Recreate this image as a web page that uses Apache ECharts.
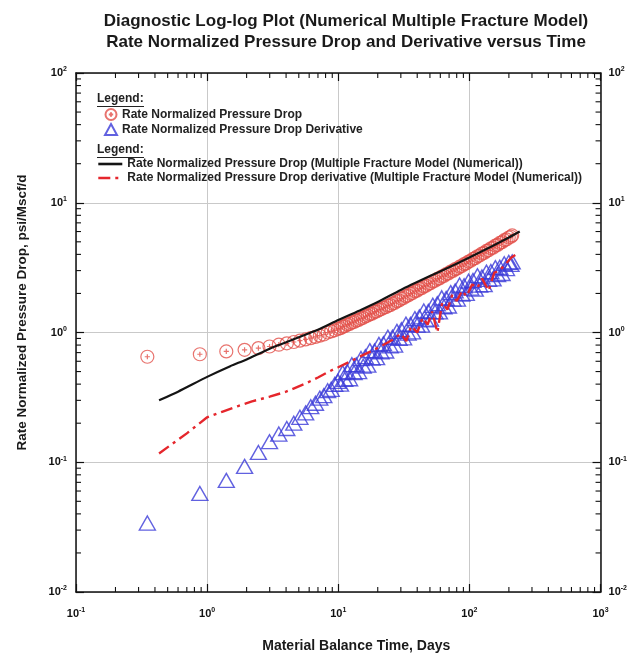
<!DOCTYPE html>
<html>
<head>
<meta charset="utf-8">
<script src="https://cdn.jsdelivr.net/npm/echarts@6/dist/echarts.min.js"></script>
<style>
html,body{margin:0;padding:0;background:#fff;}
#chart{width:630px;height:658px;}
</style>
</head>
<body>
<div id="chart"></div>
<script>
// ---- data ----
const timeDays = [0.35, 0.88, 1.40, 1.93, 2.46, 2.99, 3.52, 4.05, 4.58, 5.1, 5.64, 6.17, 6.7, 7.23, 7.76, 8.3, 8.83, 9.4,
  9.95, 10.4, 10.8, 11.2, 11.7, 12.2, 12.7, 13.2, 13.7, 14.3, 14.9, 15.5, 16.1, 16.8, 17.4, 18.1, 18.9, 19.6, 20.4, 21.2,
  22.1, 23.0, 23.9, 24.9, 25.9, 26.9, 28.0, 29.1, 30.3, 31.5, 32.8, 34.1, 35.5, 36.9, 38.4, 39.9, 41.5, 43.2, 44.9, 46.7,
  48.6, 50.5, 52.6, 54.7, 56.9, 59.1, 61.5, 64.0, 66.5, 69.2, 72.0, 74.9, 77.9, 81.0, 84.2, 87.6, 91.1, 94.7, 98.5, 102.4,
  106.5, 110.8, 115.2, 119.8, 124.6, 129.6, 134.8, 140.2, 145.8, 151.6, 157.7, 164.0, 170.5, 177.4, 184.4, 191.8, 199.5, 207.5, 212.0];
const pressureDrop = [0.650, 0.680, 0.715, 0.735, 0.758, 0.780, 0.805, 0.825, 0.845, 0.865, 0.885, 0.905, 0.925, 0.945, 0.965, 1.00, 1.02, 1.04,
  1.065, 1.080, 1.110, 1.120, 1.150, 1.165, 1.195, 1.205, 1.235, 1.250, 1.282, 1.298, 1.332, 1.350, 1.384, 1.398, 1.440, 1.452, 1.492, 1.508,
  1.550, 1.566, 1.610, 1.626, 1.673, 1.688, 1.745, 1.765, 1.822, 1.845, 1.905, 1.928, 1.990, 2.012, 2.080, 2.102, 2.172, 2.196, 2.268, 2.294,
  2.370, 2.396, 2.476, 2.505, 2.586, 2.614, 2.700, 2.732, 2.820, 2.852, 2.948, 2.982, 3.080, 3.114, 3.216, 3.252, 3.365, 3.405, 3.522, 3.568,
  3.690, 3.738, 3.868, 3.918, 4.054, 4.105, 4.250, 4.302, 4.454, 4.508, 4.672, 4.735, 4.902, 4.966, 5.144, 5.212, 5.398, 5.470, 5.600];
const pressureDropDerivative = [0.034, 0.0575, 0.0725, 0.093, 0.119, 0.144, 0.165, 0.182, 0.200, 0.222, 0.240, 0.268, 0.285, 0.312, 0.326, 0.356, 0.365, 0.398,
  0.42, 0.40, 0.49, 0.435, 0.50, 0.44, 0.565, 0.49, 0.563, 0.50, 0.63, 0.55, 0.65, 0.56, 0.725, 0.635, 0.72, 0.64, 0.81, 0.71,
  0.82, 0.72, 0.92, 0.79, 0.92, 0.80, 1.02, 0.90, 1.05, 0.91, 1.16, 0.99, 1.155, 1.01, 1.28, 1.14, 1.32, 1.14, 1.465, 1.25,
  1.455, 1.27, 1.62, 1.44, 1.665, 1.44, 1.85, 1.58, 1.83, 1.60, 2.03, 1.81, 2.09, 1.81, 2.32, 1.98, 2.29, 2.00, 2.49, 2.20,
  2.52, 2.16, 2.74, 2.32, 2.68, 2.34, 2.92, 2.57, 2.95, 2.59, 3.16, 2.79, 3.18, 2.85, 3.39, 3.11, 3.47, 3.35, 3.50];

const modelTime = [0.43, 0.6, 1.0, 1.5, 2.0, 3.0, 4.0, 5.0, 7.0, 10, 15, 20, 30, 50, 70, 100, 150, 200, 242];
const modelPressureDrop = [0.30, 0.35, 0.455, 0.55, 0.62, 0.75, 0.84, 0.92, 1.05, 1.25, 1.50, 1.72, 2.13, 2.72, 3.18, 3.78, 4.65, 5.40, 6.00];

const modelDerivTime = [0.43, 0.55, 0.7, 0.85, 1.0, 1.3, 1.7, 2.2, 3.0, 4.0, 5.5, 7.0, 8.5, 10, 12, 15, 18, 22, 26, 30, 33, 36, 40, 44, 48, 52, 57, 62, 68, 74, 80, 88, 95, 105, 115, 125, 140, 155, 170, 190, 210, 240];
const modelDerivative = [0.117, 0.14, 0.167, 0.195, 0.222, 0.245, 0.27, 0.295, 0.32, 0.35, 0.40, 0.45, 0.50, 0.54, 0.59, 0.66, 0.72, 0.80, 0.88, 0.98, 0.86, 1.12, 1.0, 1.3, 1.15, 1.45, 1.0, 1.7, 1.5, 1.95, 1.75, 2.1, 1.9, 2.35, 2.2, 2.6, 2.1, 2.9, 3.0, 3.4, 3.8, 4.15];

const xDecades = [0.1, 1, 10, 100];
const yDecades = [0.01, 0.1, 1, 10];
const minorMultipliers = [2, 3, 4, 5, 6, 7, 8, 9];

const xMin = 0.1, xMax = 1000, yMin = 0.01, yMax = 100;

const seriesNames = {
  pd: 'Rate Normalized Pressure Drop',
  pdd: 'Rate Normalized Pressure Drop Derivative',
  mpd: 'Rate Normalized Pressure Drop (Multiple Fracture Model (Numerical))',
  mpdd: 'Rate Normalized Pressure Drop derivative (Multiple Fracture Model (Numerical))'
};

// ---- build ----
const FONT = 'Liberation Sans, Arial, sans-serif';
const zip = (a, b) => a.map((v, i) => [v, b[i]]);
const xMinor = [];
xDecades.forEach(d => minorMultipliers.forEach(m => xMinor.push([d * m, 1])));
const yMinor = [];
yDecades.forEach(d => minorMultipliers.forEach(m => yMinor.push([1, d * m])));

const supLabel = v => '{b|10}{s|' + Math.round(Math.log10(v)) + '}';
const richLabel = {
  b: { fontSize: 11, fontWeight: 'bold', fontFamily: FONT, color: '#111', lineHeight: 14 },
  s: { fontSize: 7, fontWeight: 'bold', fontFamily: FONT, color: '#111', lineHeight: 8, verticalAlign: 'top' }
};
const axisLine = { show: true, lineStyle: { color: '#111', width: 1.5 } };
const axisTick = { show: true, inside: true, length: 8, lineStyle: { color: '#111', width: 1.2 } };

const circlePlus = 'path://M0,-10A10,10,0,1,1,0,10A10,10,0,1,1,0,-10ZM0,-4L0,4M-4,0L4,0';

const chart = echarts.init(document.getElementById('chart'), null, { renderer: 'canvas' });

const option = {
  backgroundColor: '#ffffff',
  animation: false,
  title: {
    text: 'Diagnostic Log-log Plot (Numerical Multiple Fracture Model)\nRate Normalized Pressure Drop and Derivative versus Time',
    left: 341, top: 6, textAlign: 'center',
    textStyle: { fontFamily: FONT, fontSize: 17, fontWeight: 'bold', color: '#1a1a1a', lineHeight: 21 }
  },
  grid: { left: 76, right: 28, top: 73, bottom: 64, containLabel: false },
  legend: [
    {
      data: [seriesNames.pd, seriesNames.pdd],
      orient: 'vertical', left: 104, top: 108, padding: 0,
      itemWidth: 12, itemHeight: 11, itemGap: 2, itemTextGap: 12,
      selectedMode: false,
      textStyle: { fontFamily: FONT, fontSize: 12, fontWeight: 'bold', color: '#222', lineHeight: 12 }
    },
    {
      data: [seriesNames.mpd, seriesNames.mpdd],
      orient: 'vertical', left: 97, top: 158, padding: 0,
      itemWidth: 24, itemHeight: 12, itemGap: 2, itemTextGap: 8,
      selectedMode: false,
      itemStyle: { opacity: 0 },
      lineStyle: { width: 2.6 },
      textStyle: { fontFamily: FONT, fontSize: 12, fontWeight: 'bold', color: '#222', lineHeight: 12 }
    }
  ],
  graphic: [
    { type: 'text', left: 97, top: 93, style: { text: 'Legend:', font: 'bold 12px ' + FONT, fill: '#222' } },
    { type: 'line', shape: { x1: 97, y1: 106.5, x2: 144, y2: 106.5 }, style: { stroke: '#222', lineWidth: 1 } },
    { type: 'text', left: 97, top: 144, style: { text: 'Legend:', font: 'bold 12px ' + FONT, fill: '#222' } },
    { type: 'line', shape: { x1: 97, y1: 157.5, x2: 144, y2: 157.5 }, style: { stroke: '#222', lineWidth: 1 } }
  ],
  xAxis: [
    {
      type: 'log', logBase: 10, min: xMin, max: xMax, splitNumber: 4,
      name: 'Material Balance Time, Days', nameLocation: 'middle', nameGap: 47,
      nameTextStyle: { fontFamily: FONT, fontSize: 14, fontWeight: 'bold', color: '#1a1a1a', padding: [0, 0, 0, 36] },
      axisLine: axisLine, axisTick: axisTick,
      axisLabel: { formatter: supLabel, rich: richLabel, margin: 15, showMinLabel: true, showMaxLabel: true },
      splitLine: { show: true, lineStyle: { color: '#c9c9c9', width: 1 } }
    },
    {
      type: 'log', logBase: 10, min: xMin, max: xMax, splitNumber: 4, position: 'top',
      axisLine: axisLine, axisTick: axisTick, axisLabel: { show: false }, splitLine: { show: false }
    }
  ],
  yAxis: [
    {
      type: 'log', logBase: 10, min: yMin, max: yMax, splitNumber: 4,
      name: 'Rate Normalized Pressure Drop, psi/Mscf/d', nameLocation: 'middle', nameGap: 47,
      nameTextStyle: { fontFamily: FONT, fontSize: 13.5, fontWeight: 'bold', color: '#1a1a1a', padding: [0, 0, 0, 40] },
      axisLine: axisLine, axisTick: axisTick,
      axisLabel: { formatter: supLabel, rich: richLabel, margin: 9, showMinLabel: true, showMaxLabel: true },
      splitLine: { show: true, lineStyle: { color: '#c9c9c9', width: 1 } }
    },
    {
      type: 'log', logBase: 10, min: yMin, max: yMax, splitNumber: 4, position: 'right',
      axisLine: axisLine, axisTick: axisTick,
      axisLabel: { formatter: supLabel, rich: richLabel, margin: 8, showMinLabel: true, showMaxLabel: true },
      splitLine: { show: false }
    }
  ],
  series: [
    {
      name: seriesNames.pd, type: 'scatter', data: zip(timeDays, pressureDrop),
      symbol: circlePlus, symbolSize: 13, symbolKeepAspect: true,
      itemStyle: { color: 'rgba(255,255,255,0)', borderColor: '#e2504a', borderWidth: 1.2 },
      z: 3
    },
    {
      name: seriesNames.pdd, type: 'scatter', data: zip(timeDays, pressureDropDerivative),
      symbol: 'triangle', symbolSize: [16, 14],
      itemStyle: { color: 'rgba(255,255,255,0)', borderColor: '#3a3ad8', borderWidth: 1.4 },
      z: 3
    },
    {
      name: seriesNames.mpd, type: 'line', data: zip(modelTime, modelPressureDrop),
      symbol: 'none', showSymbol: false, smooth: 0.2,
      lineStyle: { color: '#141414', width: 2.2 }, itemStyle: { color: '#141414' },
      z: 4
    },
    {
      name: seriesNames.mpdd, type: 'line', data: zip(modelDerivTime, modelDerivative),
      symbol: 'none', showSymbol: false,
      lineStyle: { color: '#e5262c', width: 2.4, type: [12, 5, 3, 5] }, itemStyle: { color: '#e5262c' },
      z: 5
    },
    {
      name: 'xMinorTicks', type: 'custom', data: xMinor, silent: true, z: 6,
      renderItem: function (params, api) {
        const v = api.value(0);
        const pb = api.coord([v, yMin]);
        const pt = api.coord([v, yMax]);
        return { type: 'group', children: [
          { type: 'line', shape: { x1: pb[0], y1: pb[1], x2: pb[0], y2: pb[1] - 5 }, style: { stroke: '#111', lineWidth: 1.1 } },
          { type: 'line', shape: { x1: pt[0], y1: pt[1], x2: pt[0], y2: pt[1] + 5 }, style: { stroke: '#111', lineWidth: 1.1 } }
        ] };
      }
    },
    {
      name: 'yMinorTicks', type: 'custom', data: yMinor, silent: true, z: 6,
      renderItem: function (params, api) {
        const v = api.value(1);
        const pl = api.coord([xMin, v]);
        const pr = api.coord([xMax, v]);
        return { type: 'group', children: [
          { type: 'line', shape: { x1: pl[0], y1: pl[1], x2: pl[0] + 5, y2: pl[1] }, style: { stroke: '#111', lineWidth: 1.1 } },
          { type: 'line', shape: { x1: pr[0], y1: pr[1], x2: pr[0] - 5, y2: pr[1] }, style: { stroke: '#111', lineWidth: 1.1 } }
        ] };
      }
    }
  ]
};
chart.setOption(option);
</script>
</body>
</html>
